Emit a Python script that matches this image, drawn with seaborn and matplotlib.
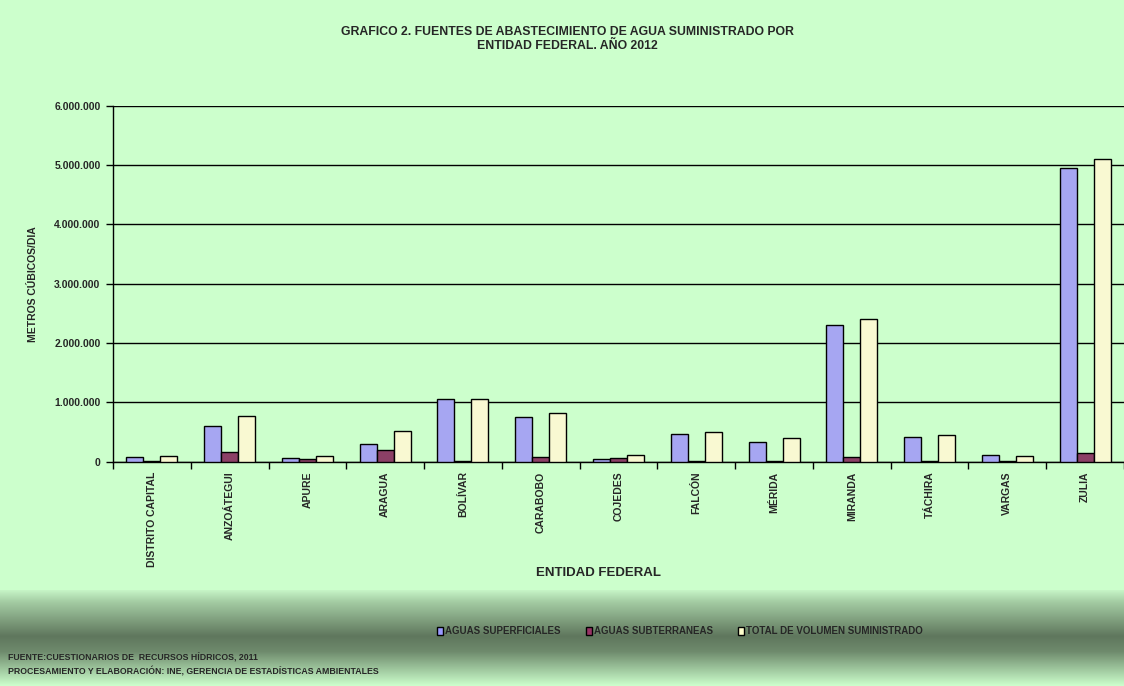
import matplotlib
matplotlib.use("Agg")
import matplotlib.pyplot as plt
from matplotlib import font_manager
from matplotlib.colors import LinearSegmentedColormap
import numpy as np
import pandas as pd
import seaborn as sns

# Data
entidades = ["DISTRITO CAPITAL", "ANZOÁTEGUI", "APURE", "ARAGUA", "BOLÍVAR", "CARABOBO",
             "COJEDES", "FALCÓN", "MÉRIDA", "MIRANDA", "TÁCHIRA", "VARGAS", "ZULIA"]
superficiales = [75000, 607000, 57000, 298000, 1057000, 748000,
                 40000, 472000, 332000, 2296000, 420000, 106000, 4958000]
subterraneas = [20000, 164000, 40000, 197000, 15000, 74000,
                57000, 15000, 15000, 84000, 15000, 10000, 150000]
total = [96000, 770000, 96000, 512000, 1060000, 821000,
         118000, 496000, 394000, 2397000, 442000, 100000, 5110000]
series = ["AGUAS SUPERFICIALES", "AGUAS SUBTERRANEAS", "TOTAL DE VOLUMEN SUMINISTRADO"]
colores = ["#9999FF", "#993366", "#FFFFCC"]
y_ticks = [0, 1000000, 2000000, 3000000, 4000000, 5000000, 6000000]

df = pd.DataFrame({
    "entidad": entidades * 3,
    "serie": [series[0]] * 13 + [series[1]] * 13 + [series[2]] * 13,
    "valor": superficiales + subterraneas + total,
})

sns.set_style("white")
installed = {f.name for f in font_manager.fontManager.ttflist}
narrow = "Liberation Sans Narrow" if "Liberation Sans Narrow" in installed else "Liberation Sans"
plt.rcParams["font.family"] = [narrow, "DejaVu Sans"]
plt.rcParams["font.weight"] = "bold"

bg = "#CCFFCC"
fig = plt.figure(figsize=(11.24, 6.86), dpi=100, facecolor=bg)

# gradient band at the bottom
band = fig.add_axes([0, 0, 1, 96 / 686], zorder=-5)
cmap = LinearSegmentedColormap.from_list(
    "band", [(0, "#C6F4C6"), (0.12, "#A4CCA3"), (0.48, "#5F775D"), (0.64, "#6E8A6C"), (1, "#CCFFCC")])
band.imshow(np.linspace(0, 1, 200).reshape(-1, 1)[::-1], aspect="auto", cmap=cmap,
            extent=[0, 1, 0, 1], origin="lower")
band.axis("off")

ax = fig.add_axes([113 / 1124, 1 - 461.7 / 686, 1011 / 1124, 356 / 686])
ax.set_facecolor(bg)
sns.barplot(data=df, x="entidad", y="valor", hue="serie", palette=colores,
            width=0.655, gap=0, edgecolor="black", linewidth=1, ax=ax, zorder=3)

ax.set_xlim(-0.5, 12.5)
ax.set_ylim(0, 6000000)
ax.set_yticks(y_ticks)
ax.set_yticklabels([f"{v:,}".replace(",", ".") for v in y_ticks], fontsize=7.5, fontweight="bold")
ax.yaxis.grid(True, color="black", linewidth=1)
ax.set_axisbelow(True)
ax.tick_params(axis="y", direction="out", length=5, width=1, color="black", left=True, pad=4)

ax.set_xticks(np.arange(13))
ax.set_xticklabels(entidades, rotation=90, fontsize=7.5, fontweight="bold", va="top")
ax.tick_params(axis="x", length=0, pad=7)
ax.set_xticks(np.arange(-0.5, 13, 1), minor=True)
ax.tick_params(axis="x", which="minor", direction="out", length=5, width=1, color="black", bottom=True)

for s in ["top", "right"]:
    ax.spines[s].set_visible(False)
for s in ["left", "bottom"]:
    ax.spines[s].set_color("black")
    ax.spines[s].set_linewidth(1)

ax.set_xlabel("")
ax.set_ylabel("")
ax.legend_.remove()

fig.text(33 / 1124, 1 - 284 / 686, "METROS CÚBICOS/DIA", rotation=90, ha="center", va="center",
         fontsize=7.5, fontweight="bold")
fig.text(598 / 1124, 1 - 573 / 686, "ENTIDAD FEDERAL", ha="center", va="center",
         fontsize=9.5, fontweight="bold")
fig.text(567 / 1124, 1 - 39 / 686,
         "GRAFICO 2. FUENTES DE ABASTECIMIENTO DE AGUA SUMINISTRADO POR\nENTIDAD FEDERAL. AÑO 2012",
         ha="center", va="center", fontsize=8.8, fontweight="bold", linespacing=1.25)

handles = [plt.Rectangle((0, 0), 1, 1, facecolor=c, edgecolor="black", linewidth=1) for c in colores]
fig.legend(handles, series, loc="center", bbox_to_anchor=(680 / 1124, 1 - 631 / 686), ncol=3,
           frameon=False, handlelength=0.6, handleheight=0.9, handletextpad=0.2,
           columnspacing=2.6, prop={"weight": "bold", "size": 7})

fig.text(8 / 1124, 1 - 657 / 686, "FUENTE:CUESTIONARIOS DE  RECURSOS HÍDRICOS, 2011",
         ha="left", va="center", fontsize=6.3, fontweight="bold")
fig.text(8 / 1124, 1 - 671 / 686,
         "PROCESAMIENTO Y ELABORACIÓN: INE, GERENCIA DE ESTADÍSTICAS AMBIENTALES",
         ha="left", va="center", fontsize=6.3, fontweight="bold")

fig.savefig("out.png", dpi=100, facecolor=bg)
